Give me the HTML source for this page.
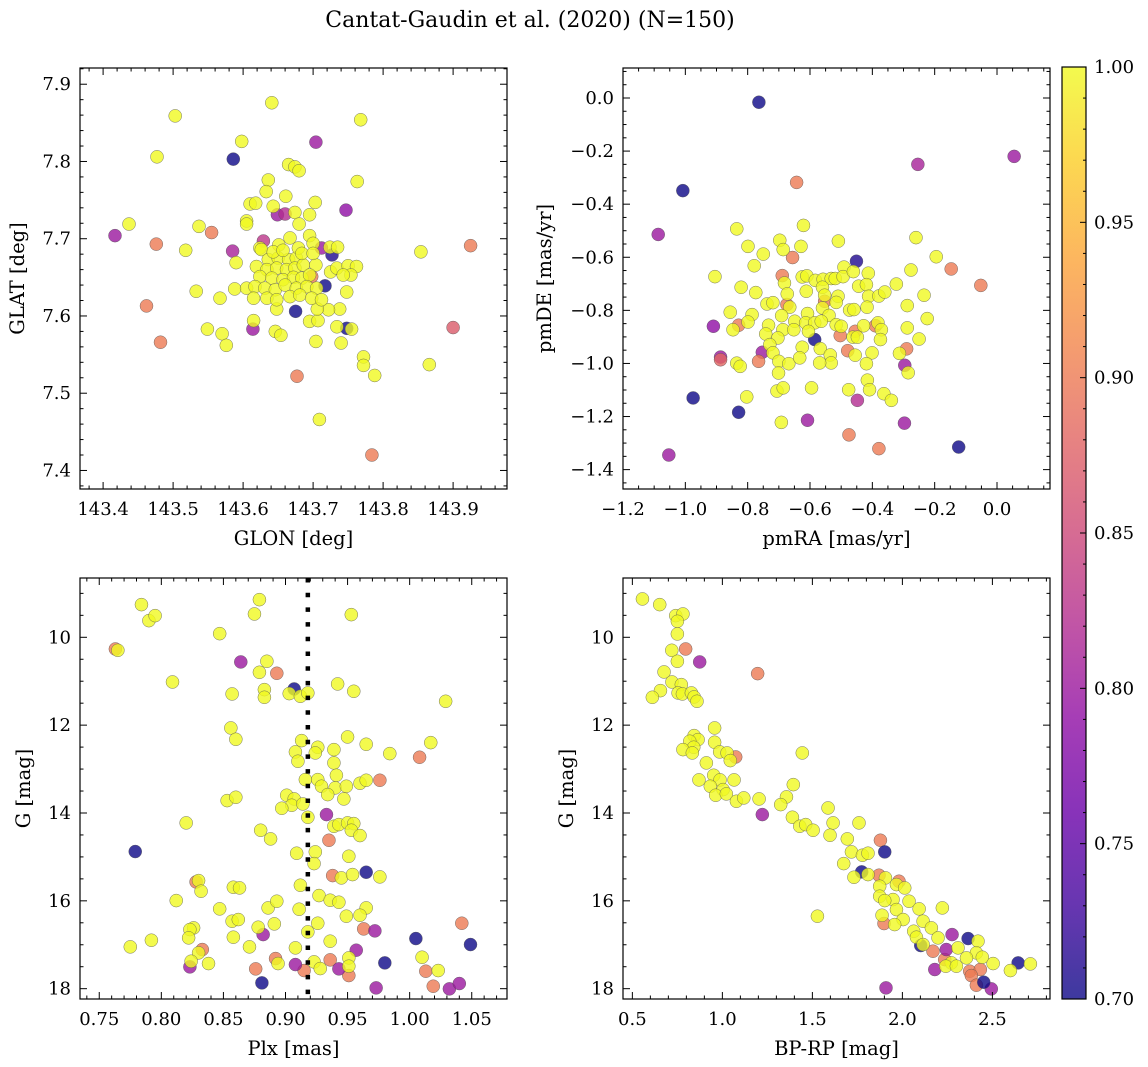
<!DOCTYPE html>
<html><head><meta charset="utf-8"><title>Cantat-Gaudin et al. (2020)</title>
<style>
html,body{margin:0;padding:0;background:#fff;}
svg{display:block;font-family:"DejaVu Serif","Liberation Serif",serif;}
</style></head>
<body>
<svg id="fig" width="1148" height="1067" viewBox="0 0 1148 1067" xmlns="http://www.w3.org/2000/svg">
<defs>
<linearGradient id="cbgrad" x1="0" y1="1" x2="0" y2="0">
<stop offset="0" stop-color="#0d0887"/><stop offset="0.1" stop-color="#41049d"/><stop offset="0.2" stop-color="#6a00a8"/><stop offset="0.3" stop-color="#8f0da4"/><stop offset="0.4" stop-color="#b12a90"/><stop offset="0.5" stop-color="#cc4778"/><stop offset="0.6" stop-color="#e16462"/><stop offset="0.7" stop-color="#f2844b"/><stop offset="0.8" stop-color="#fca636"/><stop offset="0.9" stop-color="#fcce25"/><stop offset="1" stop-color="#f0f921"/>
</linearGradient>
</defs>
<text x="530" y="27" font-size="22" text-anchor="middle" fill="#000">Cantat-Gaudin et al. (2020) (N=150)</text>
</svg>
<script>
// ---------- Panel 1: GLON / GLAT ----------
const glon=[143.704,143.747,143.417,143.585,143.649,143.660,143.614,143.629,143.712,
143.586,143.727,143.717,143.675,143.748,
143.555,143.476,143.925,143.462,143.482,143.677,143.784,143.698,143.900,
143.641,143.503,143.768,143.598,143.477,143.665,143.674,143.680,143.763,143.636,
143.633,143.661,143.610,143.618,143.703,143.643,143.674,143.695,143.605,143.605,
143.680,143.437,143.537,143.518,143.590,143.854,143.533,143.567,143.588,143.605,
143.549,143.570,143.576,143.615,143.646,143.654,143.695,143.707,143.704,143.740,
143.734,143.755,143.772,143.772,143.788,143.866,143.709,143.748,143.738,143.722,
143.706,143.648,143.667,143.695,143.651,143.624,143.626,143.700,143.724,143.735,
143.704,143.725,143.734,143.750,143.762,143.754,143.743,143.636,143.650,143.665,
143.676,143.619,143.634,143.648,143.662,143.674,143.686,143.624,143.641,143.657,
143.672,143.684,143.695,143.617,143.631,143.646,143.660,143.676,143.691,143.705,
143.615,143.634,143.648,143.667,143.681,143.698,143.712,143.643,143.657,143.679,
143.684,143.700];
const glat=[7.825,7.737,7.704,7.684,7.731,7.732,7.583,7.697,7.688,
7.803,7.679,7.639,7.606,7.584,
7.708,7.693,7.691,7.613,7.566,7.522,7.420,7.651,7.585,
7.876,7.859,7.854,7.826,7.806,7.796,7.793,7.788,7.774,7.776,
7.761,7.755,7.745,7.746,7.747,7.742,7.734,7.731,7.723,7.719,
7.719,7.719,7.716,7.685,7.669,7.683,7.632,7.623,7.635,7.636,
7.583,7.577,7.562,7.594,7.580,7.575,7.593,7.594,7.567,7.565,
7.586,7.583,7.547,7.536,7.523,7.537,7.466,7.631,7.609,7.608,
7.609,7.609,7.701,7.704,7.692,7.688,7.686,7.694,7.689,7.689,
7.666,7.657,7.662,7.665,7.664,7.653,7.653,7.673,7.675,7.673,
7.675,7.664,7.660,7.662,7.660,7.662,7.666,7.651,7.649,7.647,
7.650,7.649,7.653,7.638,7.636,7.634,7.640,7.636,7.638,7.636,
7.623,7.623,7.621,7.625,7.627,7.623,7.621,7.683,7.685,7.688,
7.681,7.681];
const prob1=[0.8,0.79,0.8,0.81,0.8,0.82,0.8,0.83,0.8,
0.7,0.71,0.7,0.7,0.7,
0.9,0.9,0.9,0.9,0.9,0.9,0.9,0.9,0.87,
1,1,1,1,1,1,1,1,1,1,
1,1,1,1,1,1,1,1,1,1,
1,1,1,1,1,1,1,1,1,1,
1,1,1,1,1,1,1,1,1,1,
1,1,1,1,1,1,1,1,1,1,
1,1,1,1,1,1,1,1,1,1,
1,1,1,1,1,1,1,1,1,1,
1,1,1,1,1,1,1,1,1,1,
1,1,1,1,1,1,1,1,1,1,
1,1,1,1,1,1,1,1,1,1,
1,1];
const glonTicks=[143.4,143.5,143.6,143.7,143.8,143.9];
const glonTickLabels=["143.4","143.5","143.6","143.7","143.8","143.9"];
const glatTicks=[7.4,7.5,7.6,7.7,7.8,7.9];
const glatTickLabels=["7.4","7.5","7.6","7.7","7.8","7.9"];

// ---------- Panel 2: pmRA / pmDE ----------
const pmra=[-0.764,-1.008,-0.451,-0.585,-0.975,-0.829,-0.123,
-1.087,-0.254,0.055,-0.910,-0.887,-0.753,-0.296,-0.448,-0.608,-0.297,-1.053,
-0.643,-0.656,-0.689,-0.829,-0.887,-0.765,-0.503,-0.479,-0.455,-0.390,-0.290,-0.674,-0.553,-0.147,-0.052,-0.475,-0.379,
-0.835,-0.621,-0.799,-0.697,-0.686,-0.629,-0.509,-0.260,-0.195,-0.750,
-0.779,-0.905,-0.276,-0.821,-0.774,-0.682,-0.625,-0.610,-0.583,-0.558,
-0.532,-0.519,-0.491,-0.494,-0.461,-0.413,-0.444,-0.419,-0.412,-0.379,
-0.360,-0.323,-0.234,-0.673,-0.612,-0.560,-0.553,-0.510,-0.516,-0.738,
-0.719,-0.665,-0.856,-0.786,-0.799,-0.847,-0.691,-0.608,-0.560,-0.539,
-0.473,-0.459,-0.417,-0.288,-0.224,-0.733,-0.687,-0.649,-0.614,-0.585,
-0.564,-0.516,-0.500,-0.428,-0.382,-0.371,-0.288,-0.742,-0.703,-0.652,
-0.605,-0.462,-0.448,-0.374,-0.250,-0.729,-0.625,-0.567,-0.719,-0.700,
-0.668,-0.633,-0.535,-0.532,-0.569,-0.455,-0.401,-0.419,-0.313,-0.835,
-0.824,-0.701,-0.285,-0.416,-0.409,-0.476,-0.363,-0.339,-0.595,-0.706,
-0.686,-0.803,-0.692];
const pmde=[-0.016,-0.349,-0.615,-0.910,-1.130,-1.184,-1.315,
-0.514,-0.250,-0.220,-0.860,-0.976,-0.958,-1.007,-1.139,-1.214,-1.225,-1.345,
-0.318,-0.601,-0.669,-0.856,-0.986,-0.992,-0.895,-0.952,-0.879,-0.858,-0.945,-0.778,-0.766,-0.644,-0.706,-1.269,-1.321,
-0.493,-0.480,-0.559,-0.536,-0.571,-0.559,-0.539,-0.526,-0.598,-0.588,
-0.632,-0.673,-0.648,-0.713,-0.733,-0.697,-0.674,-0.670,-0.687,-0.683,
-0.680,-0.680,-0.637,-0.673,-0.654,-0.660,-0.709,-0.703,-0.747,-0.746,
-0.731,-0.701,-0.743,-0.738,-0.728,-0.713,-0.743,-0.747,-0.770,-0.776,
-0.771,-0.788,-0.807,-0.816,-0.844,-0.873,-0.820,-0.812,-0.791,-0.819,
-0.799,-0.797,-0.788,-0.782,-0.831,-0.856,-0.873,-0.841,-0.847,-0.847,
-0.841,-0.854,-0.860,-0.858,-0.847,-0.873,-0.866,-0.889,-0.904,-0.873,
-0.879,-0.901,-0.901,-0.910,-0.908,-0.929,-0.939,-0.944,-0.960,-0.992,
-1.001,-0.979,-0.968,-0.998,-0.998,-0.969,-0.960,-1.001,-0.962,-0.999,
-1.011,-1.036,-1.035,-1.063,-1.099,-1.099,-1.114,-1.139,-1.092,-1.104,
-1.092,-1.126,-1.222];
const prob2=[0.7,0.7,0.71,0.7,0.7,0.7,0.7,
0.8,0.81,0.8,0.79,0.8,0.8,0.8,0.82,0.8,0.8,0.8,
0.9,0.9,0.9,0.9,0.88,0.9,0.9,0.9,0.9,0.9,0.9,0.9,0.9,0.9,0.9,0.9,0.9,
1,1,1,1,1,1,1,1,1,1,
1,1,1,1,1,1,1,1,1,1,
1,1,1,1,1,1,1,1,1,1,
1,1,1,1,1,1,1,1,1,1,
1,1,1,1,1,1,1,1,1,1,
1,1,1,1,1,1,1,1,1,1,
1,1,1,1,1,1,1,1,1,1,
1,1,1,1,1,1,1,1,1,1,
1,1,1,1,1,1,1,1,1,1,
1,1,1,1,1,1,1,1,1,1,
1,1,1];
const pmraTicks=[-1.2,-1.0,-0.8,-0.6,-0.4,-0.2,0.0];
const pmraTickLabels=["\u22121.2","\u22121.0","\u22120.8","\u22120.6","\u22120.4","\u22120.2","0.0"];
const pmdeTicks=[-1.4,-1.2,-1.0,-0.8,-0.6,-0.4,-0.2,0.0];
const pmdeTickLabels=["\u22121.4","\u22121.2","\u22121.0","\u22120.8","\u22120.6","\u22120.4","\u22120.2","0.0"];

// ---------- Panel 3: Plx / G ----------
const plx=[0.763,0.893,1.008,0.976,0.935,0.938,0.828,0.963,1.042,0.833,0.892,0.876,0.915,0.936,0.951,1.013,1.019,
0.864,0.933,0.882,0.972,0.957,0.823,0.908,0.943,0.973,1.032,1.040,
0.907,0.779,0.965,1.005,1.049,0.980,0.881,
0.784,0.790,0.795,0.879,0.875,0.953,0.847,0.765,0.885,0.879,
0.809,0.857,0.883,0.883,0.903,0.912,0.918,0.942,0.955,1.029,
0.856,0.860,0.913,0.926,0.924,0.939,0.950,0.965,0.984,1.017,
0.908,0.910,0.939,0.941,0.916,0.926,0.929,0.940,0.934,0.947,
0.949,0.960,0.965,0.901,0.907,0.905,0.897,0.914,0.853,0.860,
0.820,0.918,0.939,0.943,0.950,0.955,0.953,0.960,0.880,0.888,
0.909,0.924,0.923,0.951,0.830,0.832,0.858,0.863,0.912,0.945,
0.954,0.976,0.812,0.847,0.886,0.893,0.911,0.927,0.936,0.943,
0.965,0.949,0.960,0.857,0.862,0.878,0.891,0.926,0.826,0.823,
0.822,0.858,0.775,0.792,0.871,0.908,0.936,0.918,0.830,0.824,
0.838,0.894,0.923,0.928,0.951,0.951,1.010,1.023];
const gmag3=[10.266,10.819,12.731,13.255,14.621,15.425,15.569,16.639,16.510,17.109,17.314,17.549,17.587,17.344,17.701,17.602,17.944,
10.561,14.036,16.768,16.684,17.124,17.504,17.451,17.549,17.982,18.004,17.883,
11.176,14.878,15.349,16.859,16.995,17.413,17.868,
9.256,9.621,9.507,9.143,9.469,9.484,9.917,10.296,10.546,10.797,
11.017,11.290,11.191,11.366,11.282,11.343,11.267,11.062,11.229,11.457,
12.064,12.322,12.352,12.504,12.633,12.557,12.269,12.435,12.648,12.398,
12.610,12.822,12.860,13.141,13.240,13.240,13.391,13.429,13.581,13.680,
13.391,13.323,13.255,13.596,13.680,13.824,13.892,13.794,13.718,13.642,
14.226,14.097,14.302,14.264,14.226,14.241,14.393,14.514,14.393,14.590,
14.916,14.886,15.152,14.985,15.539,15.781,15.690,15.706,15.645,15.478,
15.402,15.455,15.994,16.183,16.161,16.009,16.191,15.880,15.986,16.032,
16.161,16.350,16.328,16.464,16.426,16.601,16.525,16.510,16.616,16.654,
16.843,16.828,17.048,16.897,17.048,17.071,16.919,16.707,17.185,17.375,
17.428,17.428,17.390,17.542,17.299,17.488,17.284,17.587];
const prob3=[0.9,0.9,0.9,0.9,0.9,0.9,0.9,0.9,0.9,0.9,0.9,0.9,0.9,0.9,0.9,0.9,0.9,
0.8,0.8,0.8,0.8,0.8,0.8,0.8,0.8,0.8,0.8,0.8,
0.7,0.7,0.7,0.7,0.7,0.7,0.7,
1,1,1,1,1,1,1,1,1,1,
1,1,1,1,1,1,1,1,1,1,
1,1,1,1,1,1,1,1,1,1,
1,1,1,1,1,1,1,1,1,1,
1,1,1,1,1,1,1,1,1,1,
1,1,1,1,1,1,1,1,1,1,
1,1,1,1,1,1,1,1,1,1,
1,1,1,1,1,1,1,1,1,1,
1,1,1,1,1,1,1,1,1,1,
1,1,1,1,1,1,1,1,1,1,
1,1,1,1,1,1,1,1];
const plxMean=0.918;
const plxTicks=[0.75,0.80,0.85,0.90,0.95,1.00,1.05];
const plxTickLabels=["0.75","0.80","0.85","0.90","0.95","1.00","1.05"];
const gTicks=[10,12,14,16,18];
const gTickLabels=["10","12","14","16","18"];

// ---------- Panel 4: BP-RP / G ----------
const bprp=[0.796,1.196,1.074,1.878,1.870,1.981,1.898,2.170,2.235,2.374,2.433,2.383,2.411,
0.874,1.222,2.276,2.244,2.180,1.909,2.494,
1.902,1.774,2.102,2.365,2.643,2.452,
0.556,0.652,0.741,0.781,0.750,0.750,0.719,0.750,0.676,0.720,
0.656,0.611,0.772,0.754,0.778,0.828,0.843,0.859,0.957,0.843,
0.865,0.819,0.841,0.781,0.833,0.957,0.985,1.026,1.044,0.911,
1.444,0.870,0.952,0.987,1.065,0.933,1.004,0.963,1.022,1.078,
1.119,1.204,1.356,1.394,1.324,1.389,1.430,1.463,1.504,1.587,
1.615,1.759,1.598,1.694,1.717,1.778,1.809,1.674,1.731,1.809,
1.906,1.874,1.967,2.013,1.874,1.948,1.902,2.037,1.967,2.093,
2.222,1.887,2.004,1.957,2.063,2.115,2.161,2.078,2.198,2.115,
2.309,2.420,2.411,2.444,2.356,2.272,2.241,2.300,2.504,2.600,
2.711,1.528];
const gmag4=[10.266,10.827,12.724,14.621,15.417,15.554,16.517,17.147,17.337,17.602,17.564,17.701,17.921,
10.561,14.036,16.768,17.109,17.564,17.982,18.004,
14.886,15.341,17.018,16.859,17.413,17.853,
9.127,9.256,9.507,9.469,9.636,9.924,10.296,10.546,10.789,11.017,
11.214,11.366,11.077,11.267,11.290,11.267,11.358,11.457,12.064,12.238,
12.329,12.367,12.504,12.557,12.633,12.390,12.610,12.633,12.807,12.860,
12.633,13.247,13.141,13.247,13.247,13.391,13.467,13.596,13.566,13.733,
13.657,13.680,13.634,13.354,13.809,14.097,14.302,14.264,14.393,13.885,
14.226,14.226,14.507,14.590,14.886,14.962,14.916,15.152,15.463,15.402,
15.478,15.668,15.630,15.706,15.895,15.971,15.994,16.009,16.199,16.183,
16.161,16.328,16.426,16.540,16.692,16.464,16.616,16.828,16.843,16.995,
17.071,16.919,17.185,17.284,17.299,17.413,17.488,17.488,17.428,17.587,
17.436,16.350];
const prob4=[0.9,0.9,0.9,0.9,0.9,0.9,0.9,0.9,0.9,0.9,0.9,0.9,0.9,
0.8,0.8,0.8,0.8,0.8,0.8,0.8,
0.7,0.7,0.7,0.7,0.7,0.7,
1,1,1,1,1,1,1,1,1,1,
1,1,1,1,1,1,1,1,1,1,
1,1,1,1,1,1,1,1,1,1,
1,1,1,1,1,1,1,1,1,1,
1,1,1,1,1,1,1,1,1,1,
1,1,1,1,1,1,1,1,1,1,
1,1,1,1,1,1,1,1,1,1,
1,1,1,1,1,1,1,1,1,1,
1,1,1,1,1,1,1,1,1,1,
1,1];
const bprpTicks=[0.5,1.0,1.5,2.0,2.5];
const bprpTickLabels=["0.5","1.0","1.5","2.0","2.5"];

// ---------- Colorbar ----------
const cbTicks=[0.70,0.75,0.80,0.85,0.90,0.95,1.00];
const cbTickLabels=["0.70","0.75","0.80","0.85","0.90","0.95","1.00"];
const CB_MIN=0.70, CB_MAX=1.00;

const NS='http://www.w3.org/2000/svg';
const svg=document.getElementById('fig');
function mk(tag,attrs,parent){const e=document.createElementNS(NS,tag);for(const k in attrs)e.setAttribute(k,attrs[k]);(parent||svg).appendChild(e);return e;}

const PL=[[0,[13,8,135]],[0.1,[65,4,157]],[0.2,[106,0,168]],[0.3,[143,13,164]],[0.4,[177,42,144]],[0.5,[204,71,120]],[0.6,[225,100,98]],[0.7,[242,132,75]],[0.8,[252,166,54]],[0.9,[252,206,37]],[1,[240,249,33]]];
function plasma(p){
  const t=Math.max(0,Math.min(1,(p-CB_MIN)/(CB_MAX-CB_MIN)));
  for(let i=0;i<PL.length-1;i++){
    const a=PL[i],b=PL[i+1];
    if(t<=b[0]){const f=(t-a[0])/(b[0]-a[0]);
      const c=a[1].map((v,j)=>Math.round(v+(b[1][j]-v)*f));
      return 'rgb('+c.join(',')+')';}
  }
  return 'rgb(240,249,33)';
}

function drawPanel(c){
  const g=mk('g',{});
  
  
  const sx=v=>c.x0+(v-c.xd[0])/(c.xd[1]-c.xd[0])*(c.x1-c.x0);
  const sy=v=>c.y1-(v-c.yd[0])/(c.yd[1]-c.yd[0])*(c.y1-c.y0);
  const cp=mk('clipPath',{id:'clip-'+c.name},g);
  mk('rect',{x:c.x0,y:c.y0,width:c.x1-c.x0,height:c.y1-c.y0},cp);
  const pts=mk('g',{'clip-path':'url(#clip-'+c.name+')'},g);
  
  
  for(let i=0;i<c.xs.length;i++){
    const dot=mk('circle',{cx:sx(c.xs[i]).toFixed(2),cy:sy(c.ys[i]).toFixed(2),r:6.5,fill:plasma(c.ps[i]),'fill-opacity':0.8,stroke:'#555','stroke-width':0.5,'stroke-opacity':0.8},pts);
    
    
  }
  if(c.vline!==undefined){
    const vl=mk('line',{x1:sx(c.vline),x2:sx(c.vline),y1:c.y0,y2:c.y1,stroke:'#000','stroke-width':4.5,'stroke-dasharray':'4.5 10.2'},pts);
    
    
  }
  const fr=mk('rect',{x:c.x0,y:c.y0,width:c.x1-c.x0,height:c.y1-c.y0,fill:'none',stroke:'#000','stroke-width':1.2},g);
  
  
  const tg=mk('g',{stroke:'#000','stroke-width':1},g);
  
  
  const isMajor=(v,arr)=>arr.some(m=>Math.abs(m-v)<1e-6);
  const xlo=Math.min(c.xd[0],c.xd[1]), xhi=Math.max(c.xd[0],c.xd[1]);
  for(let v=Math.ceil(xlo/c.xmin-1e-9)*c.xmin; v<=xhi+1e-9; v+=c.xmin){
    const vv=Math.round(v/c.xmin)*c.xmin; if(vv<xlo||vv>xhi)continue;
    const L=isMajor(vv,c.xt)?7:3.5, X=sx(vv);
    mk('line',{x1:X,x2:X,y1:c.y1,y2:c.y1-L},tg);
    mk('line',{x1:X,x2:X,y1:c.y0,y2:c.y0+L},tg);
  }
  const ylo=Math.min(c.yd[0],c.yd[1]), yhi=Math.max(c.yd[0],c.yd[1]);
  for(let v=Math.ceil(ylo/c.ymin-1e-9)*c.ymin; v<=yhi+1e-9; v+=c.ymin){
    const vv=Math.round(v/c.ymin)*c.ymin; if(vv<ylo||vv>yhi)continue;
    const L=isMajor(vv,c.yt)?7:3.5, Y=sy(vv);
    mk('line',{x1:c.x0,x2:c.x0+L,y1:Y,y2:Y},tg);
    mk('line',{x1:c.x1,x2:c.x1-L,y1:Y,y2:Y},tg);
  }
  const lg=mk('g',{'font-size':18,fill:'#000'},g);
  
  
  c.xt.forEach((v,i)=>{const t=mk('text',{x:sx(v),y:c.y1+26,'text-anchor':'middle'},lg);t.textContent=c.xtl[i];
    
    });
  c.yt.forEach((v,i)=>{const t=mk('text',{x:c.x0-9,y:sy(v)+6,'text-anchor':'end'},lg);t.textContent=c.ytl[i];
    
    });
  const xl=mk('text',{x:(c.x0+c.x1)/2,y:c.y1+56,'text-anchor':'middle','font-size':19.5},g);
  xl.textContent=c.xlabel;
  
  
  const cy=(c.y0+c.y1)/2;
  const yl=mk('text',{x:c.ylx,y:cy,'text-anchor':'middle','font-size':19.5,transform:'rotate(-90 '+c.ylx+' '+cy+')'},g);
  yl.textContent=c.ylabel;
  
  
}

drawPanel({name:'panel-sky-position',x0:80,y0:68,x1:507,y1:489,xd:[143.367,143.977],yd:[7.376,7.921],
  xs:glon,ys:glat,ps:prob1,xt:glonTicks,xtl:glonTickLabels,yt:glatTicks,ytl:glatTickLabels,xmin:0.02,ymin:0.02,
  xlabel:'GLON [deg]',ylabel:'GLAT [deg]',ylx:24});
drawPanel({name:'panel-proper-motion',x0:623,y0:68,x1:1050,y1:489,xd:[-1.2,0.170],yd:[-1.473,0.113],
  xs:pmra,ys:pmde,ps:prob2,xt:pmraTicks,xtl:pmraTickLabels,yt:pmdeTicks,ytl:pmdeTickLabels,xmin:0.05,ymin:0.05,
  xlabel:'pmRA [mas/yr]',ylabel:'pmDE [mas/yr]',ylx:551});
drawPanel({name:'panel-parallax-magnitude',x0:80,y0:578,x1:507,y1:999,xd:[0.7345,1.0784],yd:[18.235,8.65],
  xs:plx,ys:gmag3,ps:prob3,xt:plxTicks,xtl:plxTickLabels,yt:gTicks,ytl:gTickLabels,xmin:0.01,ymin:0.5,
  xlabel:'Plx [mas]',ylabel:'G [mag]',ylx:30,vline:plxMean});
drawPanel({name:'panel-color-magnitude',x0:623,y0:578,x1:1050,y1:999,xd:[0.448,2.820],yd:[18.235,8.65],
  xs:bprp,ys:gmag4,ps:prob4,xt:bprpTicks,xtl:bprpTickLabels,yt:gTicks,ytl:gTickLabels,xmin:0.1,ymin:0.5,
  xlabel:'BP-RP [mag]',ylabel:'G [mag]',ylx:573});

(function(){
  const x0=1062,x1=1086,y0=67,y1=999;
  const g=mk('g',{});
  
  
  const r=mk('rect',{x:x0,y:y0,width:x1-x0,height:y1-y0,fill:'url(#cbgrad)','fill-opacity':0.8},g);
  
  
  const f=mk('rect',{x:x0,y:y0,width:x1-x0,height:y1-y0,fill:'none',stroke:'#000','stroke-width':1.2},g);
  
  
  const sy=v=>y1-(v-CB_MIN)/(CB_MAX-CB_MIN)*(y1-y0);
  for(let k=70;k<=100;k++){
    const v=k/100, major=(k%5===0), L=major?6:3;
    mk('line',{x1:x1,x2:x1-L,y1:sy(v),y2:sy(v),stroke:'#000','stroke-width':1},g);
  }
  cbTicks.forEach((v,i)=>{const t=mk('text',{x:1094,y:sy(v)+6,'font-size':18},g);t.textContent=cbTickLabels[i];
    
    });
})();
</script>
</body></html>
